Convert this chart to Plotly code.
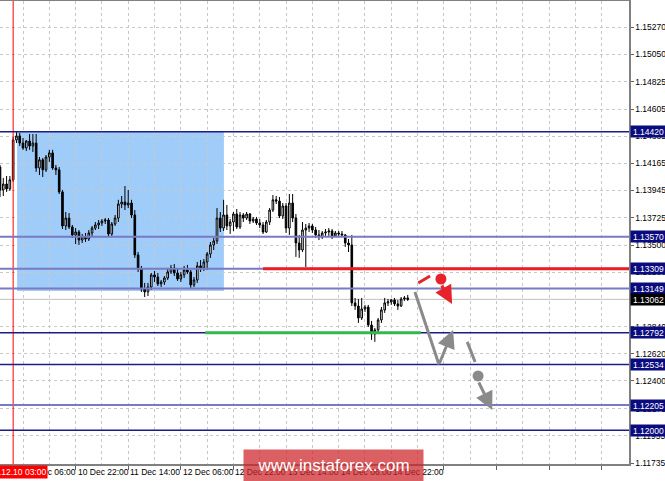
import plotly.graph_objects as go

# ---- data (hour offsets from 10 Dec 06:00, H1 candles) ----
hours = list(range(-7, 118))

opens = [1.14135, 1.13949, 1.13997, 1.13957, 1.14031, 1.14354, 1.14386,
         1.14329, 1.14289, 1.14345, 1.14305, 1.14329, 1.14127, 1.14193, 1.14112,
         1.14216, 1.14249, 1.14127, 1.14112, 1.13933, 1.13657, 1.13721, 1.13649,
         1.13584, 1.13608, 1.13543, 1.13568, 1.13551, 1.13600, 1.13640, 1.13665,
         1.13681, 1.13697, 1.13705, 1.13592, 1.13673, 1.13721, 1.13835, 1.13851,
         1.13827, 1.13843, 1.13746, 1.13422, 1.13308, 1.13146, 1.13122, 1.13162,
         1.13260, 1.13243, 1.13187, 1.13203, 1.13235, 1.13284, 1.13316, 1.13276,
         1.13227, 1.13260, 1.13300, 1.13284, 1.13179, 1.13219, 1.13333, 1.13316,
         1.13365, 1.13430, 1.13503, 1.13535, 1.13721, 1.13640, 1.13746, 1.13657,
         1.13689, 1.13754, 1.13649, 1.13746, 1.13721, 1.13754, 1.13697, 1.13713,
         1.13681, 1.13665, 1.13608, 1.13689, 1.13786, 1.13869, 1.13859, 1.13738,
         1.13819, 1.13640, 1.13843, 1.13721, 1.13519, 1.13462, 1.13624, 1.13640,
         1.13657, 1.13624, 1.13584, 1.13568, 1.13600, 1.13608, 1.13616, 1.13576,
         1.13600, 1.13592, 1.13584, 1.13519, 1.13503, 1.13033, 1.13008, 1.12911,
         1.12984, 1.13000, 1.12854, 1.12781, 1.12814, 1.12895, 1.12976, 1.13033,
         1.13041, 1.13057, 1.13025, 1.13008, 1.13065, 1.13073]
highs = [1.14152, 1.14046, 1.14062, 1.14062, 1.14378, 1.14418, 1.14410,
         1.14370, 1.14354, 1.14402, 1.14402, 1.14402, 1.14216, 1.14208, 1.14232,
         1.14274, 1.14274, 1.14152, 1.14135, 1.13949, 1.13770, 1.13762, 1.13665,
         1.13640, 1.13624, 1.13592, 1.13600, 1.13624, 1.13657, 1.13689, 1.13705,
         1.13713, 1.13721, 1.13721, 1.13689, 1.13746, 1.13869, 1.13900, 1.13981,
         1.13949, 1.13869, 1.13786, 1.13446, 1.13333, 1.13195, 1.13195, 1.13276,
         1.13292, 1.13276, 1.13219, 1.13251, 1.13308, 1.13341, 1.13349, 1.13316,
         1.13284, 1.13333, 1.13341, 1.13300, 1.13243, 1.13365, 1.13381, 1.13389,
         1.13446, 1.13527, 1.13560, 1.13802, 1.13770, 1.13869, 1.13827, 1.13713,
         1.13770, 1.13794, 1.13770, 1.13762, 1.13770, 1.13762, 1.13730, 1.13730,
         1.13713, 1.13689, 1.13705, 1.13802, 1.13908, 1.13900, 1.13892, 1.13843,
         1.13843, 1.13916, 1.13916, 1.13754, 1.13584, 1.13689, 1.13673, 1.13681,
         1.13673, 1.13649, 1.13624, 1.13616, 1.13632, 1.13640, 1.13632, 1.13616,
         1.13616, 1.13616, 1.13592, 1.13551, 1.13584, 1.13073, 1.13065, 1.13073,
         1.13017, 1.13017, 1.12887, 1.12830, 1.12911, 1.13000, 1.13073, 1.13065,
         1.13065, 1.13073, 1.13057, 1.13081, 1.13089, 1.13098]
lows = [1.13892, 1.13900, 1.13933, 1.13941, 1.14014, 1.14329, 1.14305,
        1.14274, 1.14265, 1.14274, 1.14257, 1.14095, 1.14070, 1.14054, 1.14095,
        1.14176, 1.14112, 1.14070, 1.13916, 1.13632, 1.13624, 1.13632, 1.13560,
        1.13511, 1.13503, 1.13519, 1.13527, 1.13535, 1.13576, 1.13624, 1.13632,
        1.13657, 1.13673, 1.13568, 1.13576, 1.13657, 1.13689, 1.13802, 1.13786,
        1.13802, 1.13721, 1.13398, 1.13284, 1.13122, 1.13081, 1.13089, 1.13138,
        1.13203, 1.13170, 1.13162, 1.13179, 1.13219, 1.13268, 1.13251, 1.13211,
        1.13203, 1.13235, 1.13268, 1.13154, 1.13162, 1.13195, 1.13284, 1.13292,
        1.13300, 1.13398, 1.13462, 1.13511, 1.13608, 1.13616, 1.13624, 1.13592,
        1.13616, 1.13632, 1.13632, 1.13689, 1.13705, 1.13673, 1.13681, 1.13665,
        1.13640, 1.13592, 1.13600, 1.13665, 1.13770, 1.13835, 1.13721, 1.13713,
        1.13600, 1.13584, 1.13689, 1.13406, 1.13398, 1.13446, 1.13324, 1.13608,
        1.13600, 1.13560, 1.13543, 1.13551, 1.13576, 1.13576, 1.13551, 1.13568,
        1.13576, 1.13568, 1.13487, 1.13446, 1.13008, 1.12976, 1.12871, 1.12895,
        1.12960, 1.12838, 1.12733, 1.12717, 1.12781, 1.12871, 1.12952, 1.13008,
        1.13017, 1.13008, 1.12976, 1.13000, 1.13049, 1.13049]
closes = [1.13949, 1.13997, 1.13957, 1.14031, 1.14354, 1.14386, 1.14329,
          1.14289, 1.14345, 1.14305, 1.14329, 1.14127, 1.14193, 1.14112, 1.14216,
          1.14249, 1.14127, 1.14112, 1.13933, 1.13657, 1.13721, 1.13649, 1.13584,
          1.13608, 1.13543, 1.13568, 1.13551, 1.13600, 1.13640, 1.13665, 1.13681,
          1.13697, 1.13705, 1.13592, 1.13673, 1.13721, 1.13835, 1.13851, 1.13827,
          1.13843, 1.13746, 1.13422, 1.13308, 1.13146, 1.13122, 1.13162, 1.13260,
          1.13243, 1.13187, 1.13203, 1.13235, 1.13284, 1.13316, 1.13276, 1.13227,
          1.13260, 1.13300, 1.13284, 1.13179, 1.13219, 1.13333, 1.13316, 1.13365,
          1.13430, 1.13503, 1.13535, 1.13721, 1.13640, 1.13746, 1.13657, 1.13689,
          1.13754, 1.13649, 1.13746, 1.13721, 1.13754, 1.13697, 1.13713, 1.13681,
          1.13665, 1.13608, 1.13689, 1.13786, 1.13869, 1.13859, 1.13738, 1.13819,
          1.13640, 1.13843, 1.13721, 1.13519, 1.13462, 1.13624, 1.13640, 1.13657,
          1.13624, 1.13584, 1.13568, 1.13600, 1.13608, 1.13616, 1.13576, 1.13600,
          1.13592, 1.13584, 1.13519, 1.13503, 1.13033, 1.13008, 1.12911, 1.12984,
          1.13000, 1.12854, 1.12781, 1.12814, 1.12895, 1.12976, 1.13033, 1.13041,
          1.13057, 1.13025, 1.13008, 1.13065, 1.13073, 1.13062]

# y-axis tick labels (price scale)
y_ticks = ["1.15270", "1.15050", "1.14825", "1.14605", "1.14385", "1.14165",
           "1.13945", "1.13725", "1.13500", "1.13280", "1.13060", "1.12840",
           "1.12620", "1.12400", "1.12175", "1.11955", "1.11735"]

# x-axis labels (hour offset, text)
x_label_hours = [0, 16, 32, 48, 64, 80, 96, 112]
x_label_text = ["10 Dec 06:00", "10 Dec 22:00", "11 Dec 14:00", "12 Dec 06:00",
                "12 Dec 22:00", "13 Dec 14:00", "14 Dec 06:00", "14 Dec 22:00"]

# horizontal levels: value, kind (dark / light)
level_values = [1.14420, 1.13570, 1.13309, 1.13149, 1.12792, 1.12534, 1.12205, 1.12000]
level_kinds = ["dark", "light", "light", "light", "dark", "dark", "light", "dark"]
current_price = 1.13062

# rectangle zone
zone_hours = [-1.8, 61.1]
zone_prices = [1.13130, 1.14420]

# resistance (red) and support (green) segments
red_level = [73.0, 184.3, 1.13309]
green_level = [55.4, 121.0, 1.12792]

# forecast drawings
red_dash = [(120.2, 1.13195), (123.8, 1.13251)]
red_dot = (127.1, 1.13227)
red_arrow = [(127.1, 1.13187), (130.5, 1.13025)]
gray_line = [(119.2, 1.13122), (126.5, 1.12534)]
gray_arrow1 = [(126.5, 1.12534), (130.8, 1.12814)]
gray_dash = [(135.1, 1.12717), (137.5, 1.12554)]
gray_dot = (138.4, 1.12441)
gray_arrow2 = [(138.4, 1.12400), (142.7, 1.12165)]

vline_hour = -3
vline_label = "2018.12.10 03:00"

FONT = "Liberation Sans"
DARK = "#1c1c86"
LIGHT = "#7a7ac4"
RED = "#e8222b"
GRAY = "#8a8a8a"

fig = go.Figure()

fig.add_trace(go.Candlestick(
    x=hours, open=opens, high=highs, low=lows, close=closes,
    increasing=dict(line=dict(color="black", width=1), fillcolor="white"),
    decreasing=dict(line=dict(color="black", width=1), fillcolor="black"),
    whiskerwidth=0, hoverinfo="skip", showlegend=False))

fig.add_trace(go.Scatter(x=[red_dot[0]], y=[red_dot[1]], mode="markers",
                         marker=dict(size=11, color=RED), hoverinfo="skip",
                         showlegend=False))
fig.add_trace(go.Scatter(x=[gray_dot[0]], y=[gray_dot[1]], mode="markers",
                         marker=dict(size=11, color=GRAY), hoverinfo="skip",
                         showlegend=False))

shapes = []
shapes.append(dict(type="rect", xref="x", yref="y", x0=zone_hours[0], x1=zone_hours[1],
                   y0=zone_prices[0], y1=zone_prices[1], layer="below",
                   fillcolor="rgba(95,170,245,0.6)", line=dict(width=0)))
shapes.append(dict(type="line", xref="x", yref="paper", x0=vline_hour, x1=vline_hour,
                   y0=0, y1=1, line=dict(color="#ff0000", width=1)))
shapes.append(dict(type="line", xref="paper", yref="y", x0=0, x1=1,
                   y0=current_price, y1=current_price, layer="below",
                   line=dict(color="#c0c0c0", width=1)))
for v, k in zip(level_values, level_kinds):
    shapes.append(dict(type="line", xref="paper", yref="y", x0=0, x1=1, y0=v, y1=v,
                       line=dict(color=DARK if k == "dark" else LIGHT,
                                 width=1.5 if k == "dark" else 2)))
shapes.append(dict(type="line", xref="x", yref="y", x0=red_level[0], x1=red_level[1],
                   y0=red_level[2], y1=red_level[2], line=dict(color="#ee1c24", width=3)))
shapes.append(dict(type="line", xref="x", yref="y", x0=green_level[0], x1=green_level[1],
                   y0=green_level[2], y1=green_level[2], line=dict(color="#33b84e", width=3)))
for seg, col in [(red_dash, RED), (gray_line, GRAY), (gray_dash, GRAY)]:
    shapes.append(dict(type="line", xref="x", yref="y", x0=seg[0][0], y0=seg[0][1],
                       x1=seg[1][0], y1=seg[1][1], line=dict(color=col, width=3)))

annotations = []
for seg, col in [(red_arrow, RED), (gray_arrow1, GRAY), (gray_arrow2, GRAY)]:
    annotations.append(dict(x=seg[1][0], y=seg[1][1], ax=seg[0][0], ay=seg[0][1],
                            xref="x", yref="y", axref="x", ayref="y", text="",
                            showarrow=True, arrowhead=2, arrowsize=1.2,
                            arrowwidth=3, arrowcolor=col, standoff=0))

for v in level_values:
    annotations.append(dict(x=1, y=v, xref="paper", yref="y", xanchor="left",
                            yanchor="middle", text=f"{v:.5f}", showarrow=False,
                            font=dict(family=FONT, size=8.5, color="white"),
                            bgcolor="#0b0b80", width=35, height=11, align="center",
                            borderpad=0, xshift=1))
annotations.append(dict(x=1, y=current_price, xref="paper", yref="y", xanchor="left",
                        yanchor="middle", text=f"{current_price:.5f}", showarrow=False,
                        font=dict(family=FONT, size=8.5, color="white"),
                        bgcolor="black", width=35, height=11, align="center",
                        borderpad=0, xshift=1))

for h, t in zip(x_label_hours, x_label_text):
    annotations.append(dict(x=h, y=0, xref="x", yref="paper", xanchor="left",
                            yanchor="top", text=t, showarrow=False, yshift=-1,
                            font=dict(family=FONT, size=8.5, color="black")))
annotations.append(dict(x=vline_hour, y=0, xref="x", yref="paper", xanchor="center",
                        yanchor="top", text=vline_label, showarrow=False, yshift=-1,
                        font=dict(family=FONT, size=8.5, color="white"),
                        bgcolor="#ff0000", borderpad=1))
annotations.append(dict(x=0.530, y=0, xref="paper", yref="paper", xanchor="center",
                        yanchor="middle", text="www.instaforex.com", showarrow=False,
                        font=dict(family=FONT, size=17, color="white"),
                        bgcolor="rgba(205,35,40,0.72)", width=177, height=29,
                        yshift=-1))

fig.update_layout(
    width=665, height=481,
    margin=dict(l=0, r=36, t=1, b=17, autoexpand=False),
    paper_bgcolor="white", plot_bgcolor="white",
    showlegend=False, hovermode=False,
    shapes=shapes, annotations=annotations,
    xaxis=dict(range=[-7.0, 184.3], rangeslider=dict(visible=False), automargin=False,
               tickmode="linear", tick0=0, dtick=16, ticks="outside", ticklen=4,
               tickcolor="#606060", showticklabels=False,
               showgrid=True, gridcolor="#c8c8c8", griddash="3px,3px", gridwidth=1,
               minor=dict(tick0=8, dtick=16, showgrid=True, gridcolor="#c8c8c8",
                          griddash="3px,3px", ticks=""),
               showline=True, linecolor="#808080", linewidth=1.5, mirror=True,
               zeroline=False, fixedrange=True),
    yaxis=dict(range=[1.11727, 1.154808], side="right", automargin=False,
               tickmode="array", tickvals=[float(t) for t in y_ticks], ticktext=y_ticks,
               ticks="outside", ticklen=3, tickcolor="#606060",
               tickfont=dict(family=FONT, size=8.5, color="black"),
               showgrid=True, gridcolor="#c8c8c8", griddash="3px,3px", gridwidth=1,
               showline=True, linecolor="#808080", linewidth=1.5, mirror=True,
               zeroline=False, fixedrange=True),
)

fig.write_html("out.html", config={"staticPlot": True},
               post_script="document.body.style.margin='0';document.body.style.overflow='hidden';")
